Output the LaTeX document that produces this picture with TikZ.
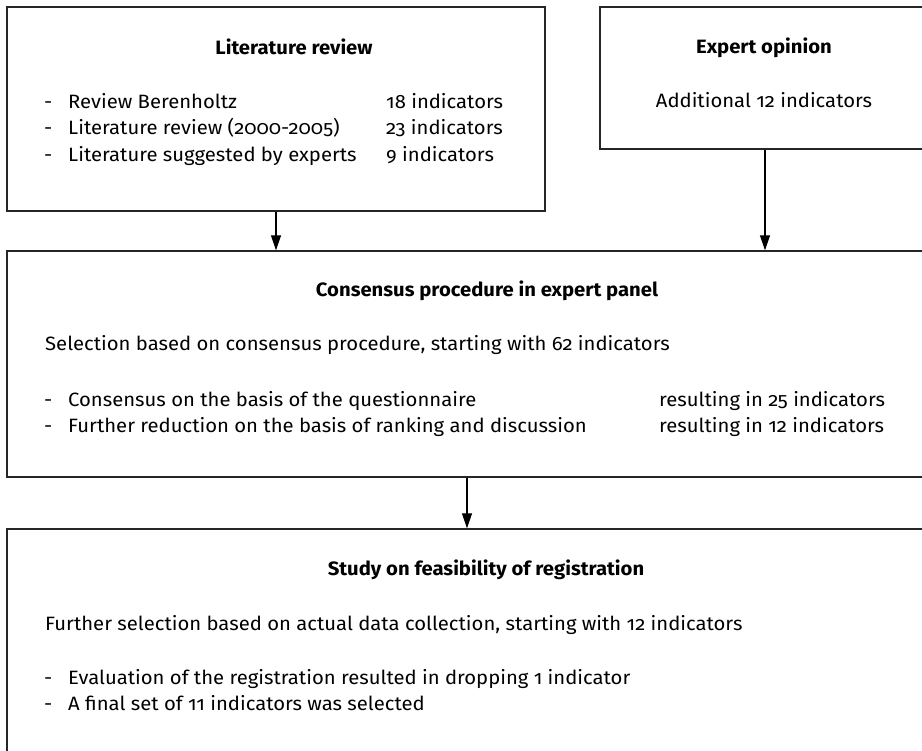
\documentclass[tikz,border=0pt]{standalone}
\usepackage{fontspec}
\setmainfont{Fira Sans}[Numbers=OldStyle,FakeStretch=1.05]
\usetikzlibrary{arrows.meta}
\begin{document}
\begin{tikzpicture}[x=1pt,y=-1pt,
  box/.style={draw=black!85,line width=1.4pt,rectangle,inner sep=0pt},
  txt/.style={anchor=base west,inner sep=0pt,font=\fontsize{19.3}{23}\selectfont},
  ttl/.style={anchor=base,inner sep=0pt,font=\fontsize{19.3}{23}\selectfont\bfseries},
  arr/.style={line width=1.2pt,-{Triangle[length=15pt,width=10pt]}}]
\useasboundingbox (0,0) rectangle (922,751);
\clip (0,0) rectangle (922,751);
\fill[white] (0,0) rectangle (922,751);
% boxes
\node[box,minimum width=538pt,minimum height=204pt] (lit) at (276,109) {};
\node[box,minimum width=328pt,minimum height=142pt] (exp) at (764,78) {};
\node[box,minimum width=958pt,minimum height=226pt] (cons) at (486,364) {};
\node[box,minimum width=958pt,minimum height=251pt] (study) at (486,654.5) {};
% literature review
\node[ttl] (litT) at (294,55) {Literature review};
\node[txt] (l1d) at (44,108.5) {-};
\node[txt] (l1) at (68,108.5) {Review Berenholtz};
\node[txt] (l1n) at (386,108.5) {18 indicators};
\node[txt] (l2d) at (44,135) {-};
\node[txt] (l2) at (68,135) {Literature review (2000-2005)};
\node[txt] (l2n) at (386,135) {23 indicators};
\node[txt] (l3d) at (44,161.5) {-};
\node[txt] (l3) at (68,161.5) {Literature suggested by experts};
\node[txt] (l3n) at (386,161.5) {9 indicators};
% expert opinion
\node[ttl] (expT) at (764,54) {Expert opinion};
\node[anchor=base,inner sep=0pt,font=\fontsize{19.3}{23}\selectfont] (exp1) at (764,108) {Additional 12 indicators};
% consensus
\node[ttl] (consT) at (487,297) {Consensus procedure in expert panel};
\node[txt] (c0) at (45,351) {Selection based on consensus procedure, starting with 62 indicators};
\node[txt] (c1d) at (44,407) {-};
\node[txt] (c1) at (68,407) {Consensus on the basis of the questionnaire};
\node[txt] (c1n) at (659,407) {resulting in 25 indicators};
\node[txt] (c2d) at (44,433) {-};
\node[txt] (c2) at (68,433) {Further reduction on the basis of ranking and discussion};
\node[txt] (c2n) at (659,433) {resulting in 12 indicators};
% study
\node[ttl] (studyT) at (486,575) {Study on feasibility of registration};
\node[txt] (s0) at (45,630) {Further selection based on actual data collection, starting with 12 indicators};
\node[txt] (s1d) at (44,684) {-};
\node[txt] (s1) at (68,684) {Evaluation of the registration resulted in dropping 1 indicator};
\node[txt] (s2d) at (44,710) {-};
\node[txt] (s2) at (68,710) {A final set of 11 indicators was selected};
% arrows
\draw[arr] (lit.south) -- (lit.south |- cons.north);
\draw[arr] ([xshift=1pt]exp.south) -- ([xshift=1pt]exp.south |- cons.north);
\draw[arr] ([xshift=-19pt]cons.south) -- ([xshift=-19pt]cons.south |- study.north);
\end{tikzpicture}
\end{document}
